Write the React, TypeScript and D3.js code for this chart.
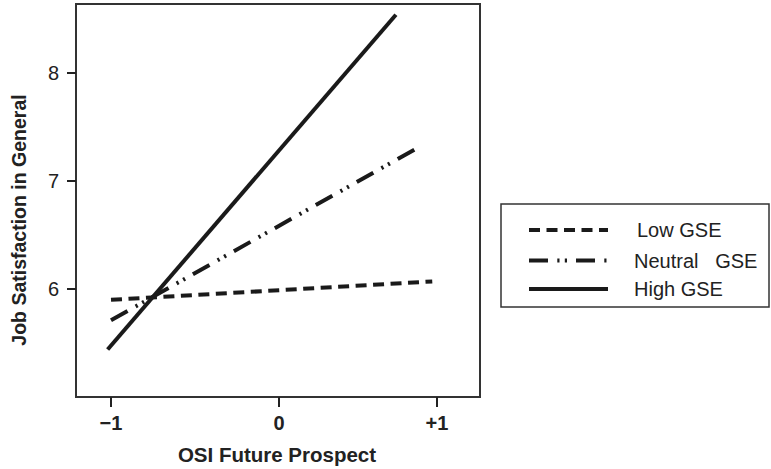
import React, { useEffect, useRef } from "react";
import * as d3 from "d3";

// x ticks / labels
const xTicks = [-1, 0, 1];
const xTickLabels = ["\u22121", "0", "+1"];
const yTicks = [6, 7, 8];

// series (start and end of each simple slope)
const seriesNames = ["Low GSE", "Neutral   GSE", "High GSE"];
const lowX = [-1, 0.97];
const lowY = [5.9, 6.07];
const neutralX = [-1, 0.905];
const neutralY = [5.71, 7.33];
const highX = [-1.02, 0.74];
const highY = [5.44, 8.54];

const dashes = ["11,6.5", "19,9.3,2.2,5.3,2.2,9", null];

const W = 771, H = 469;
const FONT = "'Liberation Sans', Arial, Helvetica, sans-serif";

export default function App() {
  const ref = useRef<SVGSVGElement>(null);

  useEffect(() => {
    const svg = d3.select(ref.current);
    svg.selectAll("*").remove();

    const box = { left: 76, right: 480, top: 4, bottom: 397 };

    // tick spacing in the source is a bit uneven, so piecewise
    const x = d3.scaleLinear().domain([-1, 0, 1]).range([111, 279, 437]);
    const y = d3.scaleLinear().domain([5, 8]).range([box.bottom, 73]);

    const series = [
      { name: seriesNames[0], xs: lowX, ys: lowY, dash: dashes[0] },
      { name: seriesNames[1], xs: neutralX, ys: neutralY, dash: dashes[1] },
      { name: seriesNames[2], xs: highX, ys: highY, dash: dashes[2] },
    ];

    const line = d3.line<[number, number]>()
      .x(d => x(d[0]))
      .y(d => y(d[1]));

    // frame
    svg.append("rect")
      .attr("x", box.left).attr("y", box.top)
      .attr("width", box.right - box.left).attr("height", box.bottom - box.top)
      .attr("fill", "none").attr("stroke", "#333").attr("stroke-width", 2);

    // y ticks
    const yg = svg.append("g");
    yTicks.forEach(t => {
      yg.append("line")
        .attr("x1", box.left - 9).attr("x2", box.left)
        .attr("y1", y(t)).attr("y2", y(t))
        .attr("stroke", "#222").attr("stroke-width", 2);
      yg.append("text")
        .attr("x", box.left - 17).attr("y", y(t))
        .attr("dy", "0.36em")
        .attr("text-anchor", "end")
        .attr("font-family", FONT).attr("font-size", 20)
        .attr("fill", "#222")
        .text(t);
    });

    // x ticks
    const xg = svg.append("g");
    xTicks.forEach((t, i) => {
      xg.append("line")
        .attr("x1", x(t)).attr("x2", x(t))
        .attr("y1", box.bottom).attr("y2", box.bottom + 10)
        .attr("stroke", "#222").attr("stroke-width", 2);
      xg.append("text")
        .attr("x", x(t)).attr("y", 430)
        .attr("text-anchor", "middle")
        .attr("font-family", FONT).attr("font-size", 20)
        .attr("font-weight", "bold")
        .attr("fill", "#222")
        .text(xTickLabels[i]);
    });

    // axis titles
    svg.append("text")
      .attr("x", 277).attr("y", 462)
      .attr("text-anchor", "middle")
      .attr("font-family", FONT).attr("font-size", 20.5)
      .attr("font-weight", "bold").attr("fill", "#222")
      .text("OSI Future Prospect");

    svg.append("text")
      .attr("transform", "translate(26,220) rotate(-90)")
      .attr("text-anchor", "middle")
      .attr("font-family", FONT).attr("font-size", 19.5)
      .attr("font-weight", "bold").attr("fill", "#222")
      .text("Job Satisfaction in General");

    // lines
    series.forEach(s => {
      const pts = s.xs.map((v, i) => [v, s.ys[i]] as [number, number]);
      svg.append("path")
        .attr("d", line(pts))
        .attr("fill", "none")
        .attr("stroke", "#1a1a1a")
        .attr("stroke-width", 4)
        .attr("stroke-dasharray", s.dash);
    });

    // legend
    const lg = svg.append("g");
    lg.append("rect")
      .attr("x", 501).attr("y", 204)
      .attr("width", 268).attr("height", 103)
      .attr("fill", "none").attr("stroke", "#333").attr("stroke-width", 1.5);

    const rows = [230, 260.5, 289];
    series.forEach((s, i) => {
      lg.append("line")
        .attr("x1", 529).attr("x2", 608)
        .attr("y1", rows[i]).attr("y2", rows[i])
        .attr("stroke", "#1a1a1a").attr("stroke-width", 4)
        .attr("stroke-dasharray", s.dash);
      lg.append("text")
        .attr("x", i === 0 ? 637 : 634).attr("y", rows[i])
        .attr("dy", "0.36em")
        .attr("font-family", FONT).attr("font-size", 20)
        .attr("fill", "#222")
        .style("white-space", "pre")
        .text(s.name);
    });
  }, []);

  return (
    <svg
      ref={ref}
      width={W}
      height={H}
      style={{ position: "absolute", left: 0, top: 0, background: "#fff" }}
    />
  );
}
